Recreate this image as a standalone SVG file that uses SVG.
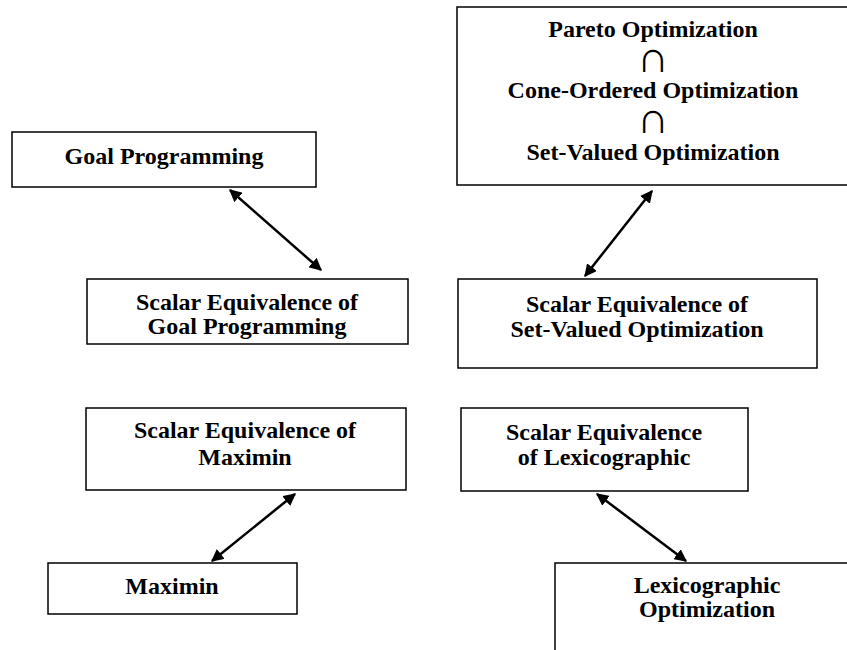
<svg xmlns="http://www.w3.org/2000/svg" width="847" height="650" viewBox="0 0 847 650">
<defs>
<style>
.box{fill:#fff;stroke:#000;stroke-width:1.5}
.t{font-family:"Liberation Serif","Times New Roman",serif;font-weight:bold;font-size:24px;text-anchor:middle;fill:#000}
.cap{font-family:"Liberation Serif","Times New Roman",serif;font-size:44px;text-anchor:middle;fill:#000}
.c{stroke:#000;stroke-width:2.5;fill:none;marker-start:url(#ah);marker-end:url(#ah)}
</style>
<marker id="ah" viewBox="0 0 10 10" refX="9" refY="5" markerWidth="5" markerHeight="5" orient="auto-start-reverse" markerUnits="strokeWidth">
<path d="M0,0 L10,5 L0,10 z" fill="#000"/>
</marker>
</defs>
<rect width="847" height="650" fill="#fff"/>
<g id="pareto">
<rect class="box" x="457" y="7" width="400" height="178"/>
<text class="t" x="653" y="37">Pareto Optimization</text>
<text class="cap" x="653" y="72">∩</text>
<text class="t" x="653" y="98">Cone-Ordered Optimization</text>
<text class="cap" x="653" y="133">∩</text>
<text class="t" x="653" y="160">Set-Valued Optimization</text>
</g>
<g id="goal">
<rect class="box" x="12" y="132" width="304" height="55"/>
<text class="t" x="164" y="164">Goal Programming</text>
</g>
<g id="se-goal">
<rect class="box" x="87" y="279" width="321" height="65"/>
<text class="t" x="247" y="310">Scalar Equivalence of</text>
<text class="t" x="247" y="334">Goal Programming</text>
</g>
<g id="se-setvalued">
<rect class="box" x="458" y="279" width="359" height="89"/>
<text class="t" x="637" y="312">Scalar Equivalence of</text>
<text class="t" x="637" y="337">Set-Valued Optimization</text>
</g>
<g id="se-maximin">
<rect class="box" x="86" y="408" width="320" height="82"/>
<text class="t" x="245" y="438">Scalar Equivalence of</text>
<text class="t" x="245" y="465">Maximin</text>
</g>
<g id="maximin">
<rect class="box" x="48" y="563" width="249" height="51"/>
<text class="t" x="172" y="594">Maximin</text>
</g>
<g id="se-lex">
<rect class="box" x="461" y="408" width="287" height="83"/>
<text class="t" x="604" y="440">Scalar Equivalence</text>
<text class="t" x="604" y="465">of Lexicographic</text>
</g>
<g id="lex">
<rect class="box" x="555" y="563" width="302" height="100"/>
<text class="t" x="707" y="593">Lexicographic</text>
<text class="t" x="707" y="617">Optimization</text>
</g>
<g id="connectors">
<line class="c" x1="230" y1="190" x2="321" y2="270"/>
<line class="c" x1="652" y1="191" x2="585" y2="276"/>
<line class="c" x1="295" y1="494" x2="212" y2="561"/>
<line class="c" x1="597" y1="494" x2="686" y2="561"/>
</g>
</svg>
